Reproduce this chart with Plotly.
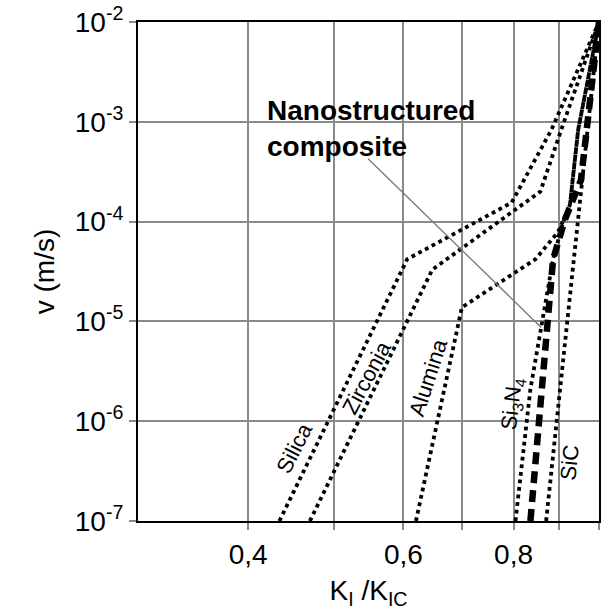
import math
import plotly.graph_objects as go

# ---- data ----
silica_k = [0.434, 0.606, 0.796, 0.883, 1.0]
silica_v = [1e-7, 4.2e-5, 1.55e-4, 8.3e-4, 1e-2]

zirconia_k = [0.470, 0.647, 0.858, 0.906, 1.0]
zirconia_v = [1e-7, 3.3e-5, 2.0e-4, 8.3e-4, 1e-2]

alumina_k = [0.620, 0.699, 0.847, 0.899, 0.927, 0.947, 1.0]
alumina_v = [1e-7, 1.38e-5, 4.2e-5, 7.9e-5, 1.48e-4, 8.3e-4, 1e-2]

si3n4_k = [0.804, 0.836, 0.887, 0.911, 0.927, 0.947, 1.0]
si3n4_v = [1e-7, 2.1e-6, 4.2e-5, 1.0e-4, 1.48e-4, 8.3e-4, 1e-2]

sic_k = [0.871, 1.0]
sic_v = [1e-7, 1e-2]

composite_k = [0.836, 0.887, 0.915, 0.954, 0.977, 1.0]
composite_v = [1e-7, 4.2e-5, 1.05e-4, 2.6e-4, 1.66e-3, 1e-2]

x_tickvals = [0.4, 0.5, 0.6, 0.7, 0.8, 0.9, 1.0]
x_ticktext = ["0,4", "", "0,6", "", "0,8", "", "1"]
y_tickvals = [1e-7, 1e-6, 1e-5, 1e-4, 1e-3, 1e-2]
y_ticktext = ["10<sup>-7</sup>", "10<sup>-6</sup>", "10<sup>-5</sup>",
              "10<sup>-4</sup>", "10<sup>-3</sup>", "10<sup>-2</sup>"]

# label text, K ratio, v, angle
labels = [
    ("Silica", 0.452, 5.4e-7, -63),
    ("Zirconia", 0.545, 2.75e-6, -62),
    ("Alumina", 0.640, 2.75e-6, -72),
    ("Si<sub>3</sub>N<sub>4</sub>", 0.798, 1.5e-6, -83),
    ("SiC", 0.925, 3.9e-7, -84),
]

FONT = "Liberation Sans, Arial, sans-serif"

fig = go.Figure()
dotted = dict(color="black", width=3.8, dash="dot")
for k, v in [(silica_k, silica_v), (zirconia_k, zirconia_v), (alumina_k, alumina_v),
             (si3n4_k, si3n4_v), (sic_k, sic_v)]:
    fig.add_trace(go.Scatter(x=k, y=v, mode="lines", line=dotted, showlegend=False,
                             hoverinfo="skip"))
fig.add_trace(go.Scatter(x=composite_k, y=composite_v, mode="lines",
                         line=dict(color="black", width=6.5, dash="12px,7px"),
                         showlegend=False, hoverinfo="skip"))

for text, k, v, ang in labels:
    fig.add_annotation(x=math.log10(k), y=math.log10(v), text=text, showarrow=False,
                       textangle=ang, font=dict(family=FONT, size=22, color="black"))

# Nanostructured composite label and leader line
fig.add_annotation(x=math.log10(0.418), y=math.log10(8.5e-4), xanchor="left", yanchor="middle",
                   text="<b>Nanostructured<br>composite</b>", showarrow=False, align="left",
                   font=dict(family=FONT, size=28, color="black"))
fig.add_annotation(x=math.log10(0.860), y=math.log10(8.7e-6), ax=math.log10(0.545),
                   ay=math.log10(4.4e-4), axref="x", ayref="y", text="", showarrow=True,
                   arrowhead=0, arrowwidth=1.3, arrowcolor="#777777")

axis_common = dict(showline=True, linecolor="black", linewidth=2, mirror=True,
                   showgrid=True, gridcolor="#8a8a8a", gridwidth=1.5,
                   ticks="outside", ticklen=7, tickcolor="#8a8a8a", tickwidth=1.5,
                   zeroline=False, tickfont=dict(family=FONT, size=28, color="black"))

fig.update_xaxes(type="log", range=[math.log10(0.3), 0], tickvals=x_tickvals,
                 ticktext=x_ticktext,
                 title=dict(text="K<sub>I</sub> /K<sub>IC</sub>",
                            font=dict(family=FONT, size=28, color="black"), standoff=12),
                 **axis_common)
fig.update_yaxes(type="log", range=[-7, -2], tickvals=y_tickvals, ticktext=y_ticktext,
                 title=dict(text="v (m/s)", font=dict(family=FONT, size=28, color="black"),
                            standoff=12),
                 **axis_common)

fig.update_layout(width=603, height=613, margin=dict(l=138, r=2, t=22, b=92),
                  paper_bgcolor="white", plot_bgcolor="white")

fig.write_html("out.html")
